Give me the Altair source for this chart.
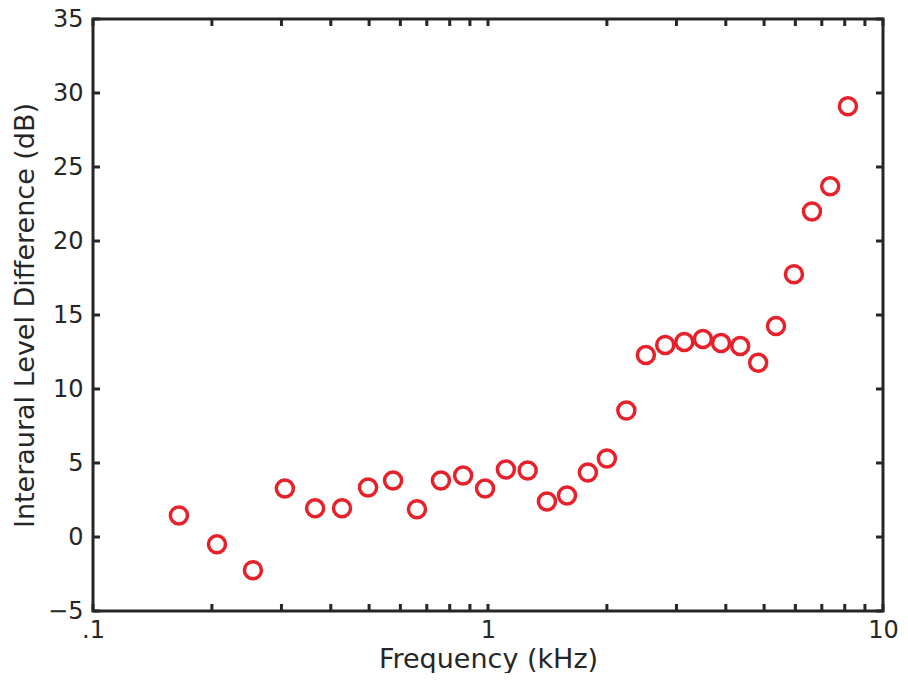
import altair as alt
import pandas as pd

freq_khz = [0.165, 0.206, 0.254, 0.306, 0.365, 0.427, 0.497, 0.575, 0.661, 0.760,
            0.865, 0.983, 1.11, 1.26, 1.41, 1.585, 1.79, 2.00, 2.24, 2.51,
            2.81, 3.14, 3.50, 3.89, 4.35, 4.83, 5.36, 5.95, 6.61, 7.35, 8.15]
ild_db = [1.46, -0.49, -2.24, 3.28, 1.94, 1.94, 3.35, 3.82, 1.87, 3.82,
          4.15, 3.28, 4.56, 4.49, 2.40, 2.81, 4.36, 5.30, 8.54, 12.30,
          12.98, 13.18, 13.38, 13.11, 12.91, 11.77, 14.26, 17.76, 22.0, 23.7, 29.1]

x_ticks = [0.1, 0.2, 0.3, 0.4, 0.5, 0.6, 0.7, 0.8, 0.9, 1,
           2, 3, 4, 5, 6, 7, 8, 9, 10]
x_labels = [0.1, 1, 10]
y_ticks = [-5, 0, 5, 10, 15, 20, 25, 30, 35]

W, H = 790, 592
TL = 7
INK = "#262626"
FONT = "DejaVu Sans"

pts = pd.DataFrame({"f": freq_khz, "ild": ild_db})
xt = pd.DataFrame({"f": x_ticks})
yt = pd.DataFrame({"v": y_ticks})

xscale = alt.Scale(type="log", domain=[0.1, 10], nice=False)
yscale = alt.Scale(domain=[-5, 35], nice=False, zero=False)

xaxis = alt.Axis(values=x_labels, labelExpr="datum.value == 0.1 ? '.1' : datum.value == 1 ? '1' : '10'",
                 ticks=False, domain=False, grid=False, labelFontSize=24, labelPadding=7,
                 labelColor=INK, titleColor=INK, titleFontSize=27, titleFontWeight="normal",
                 titleFont=FONT, labelFont=FONT, titlePadding=4, labelFlush=False)
yaxis = alt.Axis(values=y_ticks, ticks=False, domain=False, grid=False, labelFontSize=24,
                 labelPadding=10, labelColor=INK, titleColor=INK, titleFontSize=27,
                 titleFontWeight="normal", titleFont=FONT, labelFont=FONT, titlePadding=8,
                 labelFlush=False)

points = alt.Chart(pts).mark_point(shape="circle", filled=False, size=290, strokeWidth=3.5,
                                   color="#e8202a", opacity=1).encode(
    x=alt.X("f:Q", scale=xscale, axis=xaxis, title="Frequency (kHz)"),
    y=alt.Y("ild:Q", scale=yscale, axis=yaxis, title="Interaural Level Difference (dB)"),
)

xt_bottom = alt.Chart(xt).mark_rule(color=INK, strokeWidth=3).encode(
    x=alt.X("f:Q", scale=xscale), y=alt.value(H), y2=alt.value(H - TL))
xt_top = alt.Chart(xt).mark_rule(color=INK, strokeWidth=3).encode(
    x=alt.X("f:Q", scale=xscale), y=alt.value(0), y2=alt.value(TL))
yt_left = alt.Chart(yt).mark_rule(color=INK, strokeWidth=3).encode(
    y=alt.Y("v:Q", scale=yscale), x=alt.value(0), x2=alt.value(TL))
yt_right = alt.Chart(yt).mark_rule(color=INK, strokeWidth=3).encode(
    y=alt.Y("v:Q", scale=yscale), x=alt.value(W - TL), x2=alt.value(W))

chart = alt.layer(xt_bottom, xt_top, yt_left, yt_right, points).properties(
    width=W, height=H,
    autosize=alt.AutoSizeParams(type="none"),
    padding={"left": 85, "top": 11, "right": 17, "bottom": 62},
).configure(background="white").configure_view(stroke=INK, strokeWidth=3)

chart.save("out.html", embed_options={"renderer": "svg", "actions": False})
